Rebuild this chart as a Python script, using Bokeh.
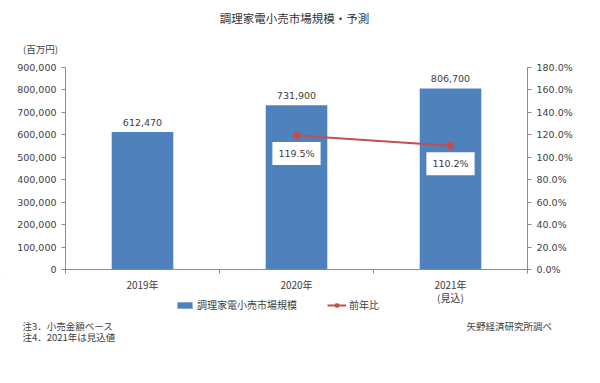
from bokeh.plotting import figure
from bokeh.layouts import column
from bokeh.models import (Range1d, LinearAxis, FixedTicker, NumeralTickFormatter,
                          Label, Legend, LegendItem, ColumnDataSource)
from bokeh.core.properties import value
from bokeh.embed import file_html
from bokeh.resources import INLINE

# ---- data ----
categories = ["2019年", "2020年", "2021年"]
tick_notes = ["", "", "(見込)"]
market = [612470, 731900, 806700]
market_labels = ["612,470", "731,900", "806,700"]
yoy_years = ["2020年", "2021年"]
yoy = [119.5, 110.2]
yoy_labels = ["119.5%", "110.2%"]
left_ticks = [0, 100000, 200000, 300000, 400000, 500000, 600000, 700000, 800000, 900000]
right_ticks = [0, 20, 40, 60, 80, 100, 120, 140, 160, 180]
y_max = 900000
pct_max = 180

title_text = "調理家電小売市場規模・予測"
unit_text = "(百万円)"
legend_labels = ["調理家電小売市場規模", "前年比"]
note1 = "注3．小売金額ベース"
note2 = "注4．2021年は見込値"
source_text = "矢野経済研究所調べ"

# ---- styles / layout ----
JP = "Noto Sans CJK JP"
NUM = "DejaVu Sans"
TXT = "#404040"
AX = "#8c8c8c"
BLUE = "#4f81bd"
RED = "#c0504d"
W = 584
LEFT, RIGHT = 65, 57          # frame edges: x 65 .. 527
TOP_H = 55
MAIN_TOP, FRAME_H, MAIN_BOT = 12, 202, 8
BOT_H = 90

n = len(categories)
pos = {c: i + 0.5 for i, c in enumerate(categories)}
px_per = (W - LEFT - RIGHT) / n

bar_src = ColumnDataSource(dict(x=[pos[c] for c in categories], y=market, lab=market_labels))
yoy_src = ColumnDataSource(dict(x=[pos[c] for c in yoy_years], y=yoy, lab=yoy_labels))


def blank(height, x_range, y_range):
    f = figure(width=W, height=height, output_backend="svg", toolbar_location=None,
               x_range=x_range, y_range=y_range, x_axis_type=None, y_axis_type=None,
               min_border=0)
    f.outline_line_color = None
    f.xgrid.visible = False
    f.ygrid.visible = False
    return f


# ---- top: title & unit ----
top = blank(TOP_H, Range1d(0, W), Range1d(TOP_H, 0))
top.add_layout(Label(x=294, y=17, text=title_text, text_font=JP, text_font_size="11.5px",
                     text_color="#333333", text_align="center", text_baseline="middle"))
top.add_layout(Label(x=40, y=48, text=unit_text, text_font=JP, text_font_size="9.5px",
                     text_color=TXT, text_align="center", text_baseline="middle"))

# ---- main chart ----
p = figure(width=W, height=MAIN_TOP + FRAME_H + MAIN_BOT, output_backend="svg",
           toolbar_location=None, x_range=Range1d(0, n), y_range=Range1d(0, y_max),
           min_border_left=LEFT, min_border_right=RIGHT, min_border_top=MAIN_TOP,
           min_border_bottom=MAIN_BOT)
p.extra_y_ranges = {"pct": Range1d(0, pct_max)}
p.outline_line_color = None
p.xgrid.visible = False
p.ygrid.visible = False

p.vbar(x="x", top="y", width=0.4, source=bar_src, fill_color=BLUE, line_color=None)
p.text(x="x", y="y", text="lab", source=bar_src, text_align="center", text_baseline="bottom",
       y_offset=-6, text_font=value(NUM), text_font_size="9.5px", text_color=TXT)

p.line(x="x", y="y", source=yoy_src, y_range_name="pct", line_color=RED, line_width=2)
p.scatter(x="x", y="y", source=yoy_src, y_range_name="pct", marker="square", size=6,
          fill_color=RED, line_color=RED)
p.text(x="x", y="y", text="lab", source=yoy_src, y_range_name="pct", text_align="center",
       text_baseline="middle", y_offset=18, text_font=value(NUM), text_font_size="9.5px",
       text_color=TXT, background_fill_color="white", padding=6)

xa = p.xaxis[0]
xa.ticker = FixedTicker(ticks=[pos[c] for c in categories], minor_ticks=list(range(n + 1)))
xa.major_label_overrides = {pos[c]: "" for c in categories}
xa.major_label_standoff = 0
xa.major_tick_out = 0
xa.major_tick_in = 0
xa.minor_tick_out = 4
xa.minor_tick_in = 0
xa.minor_tick_line_color = AX
xa.axis_line_color = AX

ya = p.yaxis[0]
ya.ticker = FixedTicker(ticks=left_ticks)
ya.formatter = NumeralTickFormatter(format="0,0")
ya.minor_tick_line_color = None
ya.major_tick_out = 4
ya.major_tick_in = 0
ya.major_tick_line_color = AX
ya.axis_line_color = AX
ya.major_label_standoff = 5
ya.major_label_text_font = NUM
ya.major_label_text_font_size = "9.5px"
ya.major_label_text_color = TXT

ra = LinearAxis(y_range_name="pct", ticker=FixedTicker(ticks=right_ticks))
ra.major_label_overrides = {t: f"{t:.1f}%" for t in right_ticks}
ra.minor_tick_line_color = None
ra.major_tick_out = 4
ra.major_tick_in = 0
ra.major_tick_line_color = AX
ra.axis_line_color = AX
ra.major_label_standoff = 5
ra.major_label_text_font = NUM
ra.major_label_text_font_size = "9.5px"
ra.major_label_text_color = TXT
p.add_layout(ra, "right")

# ---- bottom: category labels, legend, notes ----
bot = blank(BOT_H, Range1d(-LEFT / px_per, n + RIGHT / px_per), Range1d(BOT_H, 0))
cat_src = ColumnDataSource(dict(x=[pos[c] for c in categories], t=categories, s=tick_notes))
bot.text(x="x", y=7, text="t", source=cat_src, text_align="center", text_baseline="middle",
         text_font=value(JP), text_font_size="10px", text_color=TXT)
bot.text(x="x", y=20, text="s", source=cat_src, text_align="center", text_baseline="middle",
         text_font=value(JP), text_font_size="10px", text_color=TXT)

# legend proxies, kept far outside the visible area
dummy = ColumnDataSource(dict(x=[-500, -499], y=[-5000, -5000]))
lb = bot.vbar(x="x", top="y", bottom=-5001, width=0.4, source=dummy, fill_color=BLUE,
              line_color=None)
ll = bot.line(x="x", y="y", source=dummy, line_color=RED, line_width=2)
ls = bot.scatter(x="x", y="y", source=dummy, marker="square", size=6,
                 fill_color=RED, line_color=RED)
legend = Legend(items=[LegendItem(label=legend_labels[0], renderers=[lb]),
                       LegendItem(label=legend_labels[1], renderers=[ll, ls])],
                orientation="horizontal", location=(175, 55), padding=0, margin=0,
                spacing=30, glyph_width=19, glyph_height=8, label_standoff=3,
                label_height=14, label_text_font=JP, label_text_font_size="10px",
                label_text_color=TXT, border_line_color=None, background_fill_alpha=0)
bot.add_layout(legend, "center")

x0 = -LEFT / px_per
for txt, xx, yy in [(note1, 22, 48.5), (note2, 22, 59.7), (source_text, 466, 48.5)]:
    bot.add_layout(Label(x=x0 + xx / px_per, y=yy, text=txt, text_font=JP,
                         text_font_size="9.5px", text_color=TXT, text_align="left",
                         text_baseline="middle"))

layout = column(column(top), p, column(bot), spacing=0)
open("out.html", "w").write(file_html(layout, INLINE))
